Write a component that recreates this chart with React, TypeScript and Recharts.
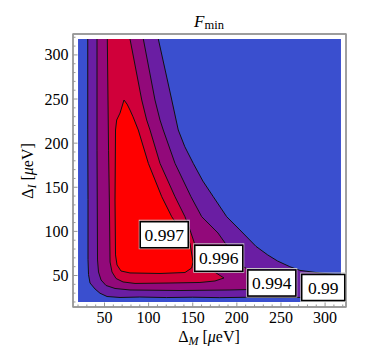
import { ScatterChart, Scatter, XAxis, YAxis, ReferenceArea } from "recharts";

// F_min contour plot, Δ_M (x) vs Δ_I (y), both in μeV
const dataMin = 20;
const dataMax = 318;
// frame sits a little outside the sampled region
const frameMin = 14.3;
const frameMax = 323.7;

const frameTicks = [
  20, 30, 40, 50, 60, 70, 80, 90, 100, 110, 120, 130, 140, 150, 160, 170, 180,
  190, 200, 210, 220, 230, 240, 250, 260, 270, 280, 290, 300, 310, 320,
];
const labelledTicks = [50, 100, 150, 200, 250, 300];

// contour lines, [ΔM, ΔI]
const contour99Lower = [
  [31, 318], [31, 215], [31.3, 136], [31.3, 68], [31.9, 51], [33.6, 41.5],
  [39.3, 34.7], [44.9, 29.9], [52.9, 26.2], [67.6, 25.1], [90, 25.6], [120, 25],
  [150, 25.4], [180, 24.9], [210, 25.3], [250, 25], [285, 25.3], [318, 25.4],
];
const contour99Upper = [
  [318, 50.6], [294, 52.8], [271.5, 55.8], [260, 60], [246, 66.5], [235, 73.3],
  [221.7, 83], [203.5, 101.6], [188.5, 116.6], [173.3, 139.3], [161.5, 157],
  [150.6, 177.1], [141, 196], [133.6, 214.9], [126, 250], [118.5, 284], [111, 318],
];
const contour994 = [
  [41.5, 318], [41.5, 192], [42.1, 67.6], [43.2, 54], [46.1, 44.9], [51.7, 38.7],
  [61.9, 35.3], [78.9, 33.6], [135.6, 33], [192.2, 33.6], [237.5, 34.7], [267, 37],
  [248.9, 41.5], [226.2, 49.5], [205.8, 60.8], [192.2, 78.9], [178.6, 98.2],
  [160.2, 116.6], [148, 139.3], [129.9, 177.1], [116.6, 214.9], [112.9, 226.2],
  [107.2, 248.9], [94, 318],
];
const contour996 = [
  [53.2, 318], [54.6, 192], [55.5, 135.6], [56.3, 65.3], [58.5, 54], [63.1, 46.6],
  [71, 42.7], [84.6, 41], [124.2, 41.5], [158.2, 42.1], [175.2, 43.8], [185.4, 47.2],
  [173, 55.1], [161.6, 67.6], [152.6, 84.6], [146.9, 101.6], [141.2, 116.6],
  [129.9, 139.3], [112.9, 177.1], [101.6, 214.9], [97.8, 226.2], [92.2, 248.9],
  [78.9, 318],
];
const contour997 = [
  [72.1, 248.9], [67.6, 234.1], [63.8, 226.2], [62.5, 214.9], [61.9, 135.6],
  [62.5, 73.3], [64.2, 61.9], [68.7, 55.1], [78.9, 52.9], [112.9, 52.3],
  [141.2, 53.4], [148.8, 58.5], [150.3, 65.3], [146.9, 86.5], [126.2, 116.6],
  [114.9, 139.3], [99.7, 177.1], [88.3, 214.9], [82.3, 229.9], [78.9, 237.5],
  [75.5, 244.3], [72.1, 248.9],
];

const levelLabels = ["0.997", "0.996", "0.994", "0.99"];
const labelX = [117.7, 179.5, 239.6, 297.9];
const labelY = [96.2, 69.5, 41.5, 36.4];

const colors = {
  below: "#3a4fcf",
  l99: "#6a1ea3",
  l994: "#92097a",
  l996: "#d0003a",
  l997: "#ff0000",
};

const serif = "'Liberation Serif', serif";
const frameGray = "#979797";

const toPts = (pairs: number[][]) => pairs.map(([x, y]) => ({ x, y }));

const regions = [
  { key: "r99", pts: toPts([...contour99Lower, ...contour99Upper]), fill: colors.l99 },
  { key: "r994", pts: toPts(contour994), fill: colors.l994 },
  { key: "r996", pts: toPts(contour996), fill: colors.l996 },
  { key: "r997", pts: toPts(contour997), fill: colors.l997 },
];

const labelData = levelLabels.map((text, i) => ({ x: labelX[i], y: labelY[i], text }));

const noDot = () => <g />;

function frameTick(side: "bottom" | "top" | "left" | "right") {
  return (props: any) => {
    const x = Number(props.x);
    const y = Number(props.y);
    const v = props.payload.value;
    const major = labelledTicks.includes(v);
    const len = major ? 4.5 : 2.5;
    const showText = major && (side === "bottom" || side === "left");
    let end = { x, y: y - len };
    if (side === "top") end = { x, y: y + len };
    if (side === "left") end = { x: x + len, y };
    if (side === "right") end = { x: x - len, y };
    return (
      <g>
        <path d={`M${x},${y}L${end.x},${end.y}`} stroke={frameGray} strokeWidth={1} fill="none" />
        {showText && (
          <text
            x={side === "left" ? x - 4.5 : x}
            y={side === "left" ? y + 5.5 : y + 15.5}
            textAnchor={side === "left" ? "end" : "middle"}
            style={{ fontFamily: serif, fontSize: 16 }}
            fill="#000"
          >
            {v}
          </text>
        )}
      </g>
    );
  };
}

function LabelBox(props: any) {
  const { cx, cy, payload } = props;
  const w = payload.text.length > 4 ? 48 : 43;
  const h = 26;
  return (
    <g>
      <rect x={cx - w / 2 - 1} y={cy - h / 2 - 1.5} width={w + 2} height={h + 2.5} fill="none" stroke="#c4c4c4" strokeWidth={1} />
      <rect x={cx - w / 2} y={cy - h / 2} width={w} height={h} fill="#fff" stroke="#000" strokeWidth={1.5} />
      <text x={cx} y={cy + 6} textAnchor="middle" style={{ fontFamily: serif, fontSize: 17.5 }} fill="#000">
        {payload.text}
      </text>
    </g>
  );
}

const axisLine = { stroke: frameGray, strokeWidth: 1.4 };

const axisCommon = {
  type: "number" as const,
  domain: [frameMin, frameMax],
  ticks: frameTicks,
  interval: 0,
  tickSize: 0,
  tickMargin: 0,
  tickLine: false,
  axisLine,
};

export default function App() {
  return (
    <div style={{ position: "absolute", left: 0, top: 0, width: 381, height: 363, background: "#fff" }}>
      <ScatterChart width={381} height={363} margin={{ top: 30, right: 31, bottom: 26, left: 33 }}>
        <XAxis xAxisId="x" dataKey="x" height={30} tick={frameTick("bottom")} {...axisCommon} />
        <XAxis xAxisId="xt" orientation="top" height={4} tick={frameTick("top")} {...axisCommon} />
        <YAxis yAxisId="y" dataKey="y" width={40} tick={frameTick("left")} {...axisCommon} />
        <YAxis yAxisId="yr" orientation="right" width={4} tick={frameTick("right")} {...axisCommon} />
        <ReferenceArea
          xAxisId="x"
          yAxisId="y"
          x1={frameMin}
          x2={frameMax}
          y1={frameMin}
          y2={frameMax}
          fill="none"
          stroke={frameGray}
          strokeWidth={1.4}
          ifOverflow="visible"
        />
        <ReferenceArea
          xAxisId="x"
          yAxisId="y"
          x1={dataMin}
          x2={dataMax}
          y1={dataMin}
          y2={dataMax}
          fill={colors.below}
          fillOpacity={1}
          stroke="none"
        />
        {regions.map((r) => (
          <Scatter
            key={r.key}
            xAxisId="x"
            yAxisId="y"
            data={r.pts}
            line={{ fill: r.fill, stroke: "#111", strokeWidth: 1 }}
            lineType="joint"
            shape={noDot}
            isAnimationActive={false}
          />
        ))}
        <Scatter
          xAxisId="x"
          yAxisId="y"
          data={labelData}
          shape={(p: any) => <LabelBox {...p} />}
          isAnimationActive={false}
        />
      </ScatterChart>
      <svg width={381} height={363} style={{ position: "absolute", left: 0, top: 0, pointerEvents: "none" }}>
        <text x={209} y={26.5} textAnchor="middle" style={{ fontFamily: serif, fontSize: 17 }}>
          <tspan fontStyle="italic">F</tspan>
          <tspan fontSize={12.5} dy={2}>min</tspan>
        </text>
        <text x={209} y={342} textAnchor="middle" style={{ fontFamily: serif, fontSize: 16 }}>
          Δ<tspan fontStyle="italic" fontSize={12} dy={3}>M</tspan>
          <tspan dy={-3}> [</tspan>
          <tspan fontStyle="italic">μ</tspan>eV]
        </text>
        <text x={33} y={171} textAnchor="middle" style={{ fontFamily: serif, fontSize: 16 }} transform="rotate(-90, 33, 171)">
          Δ<tspan fontStyle="italic" fontSize={12} dy={3}>I</tspan>
          <tspan dy={-3}> [</tspan>
          <tspan fontStyle="italic">μ</tspan>eV]
        </text>
      </svg>
    </div>
  );
}
